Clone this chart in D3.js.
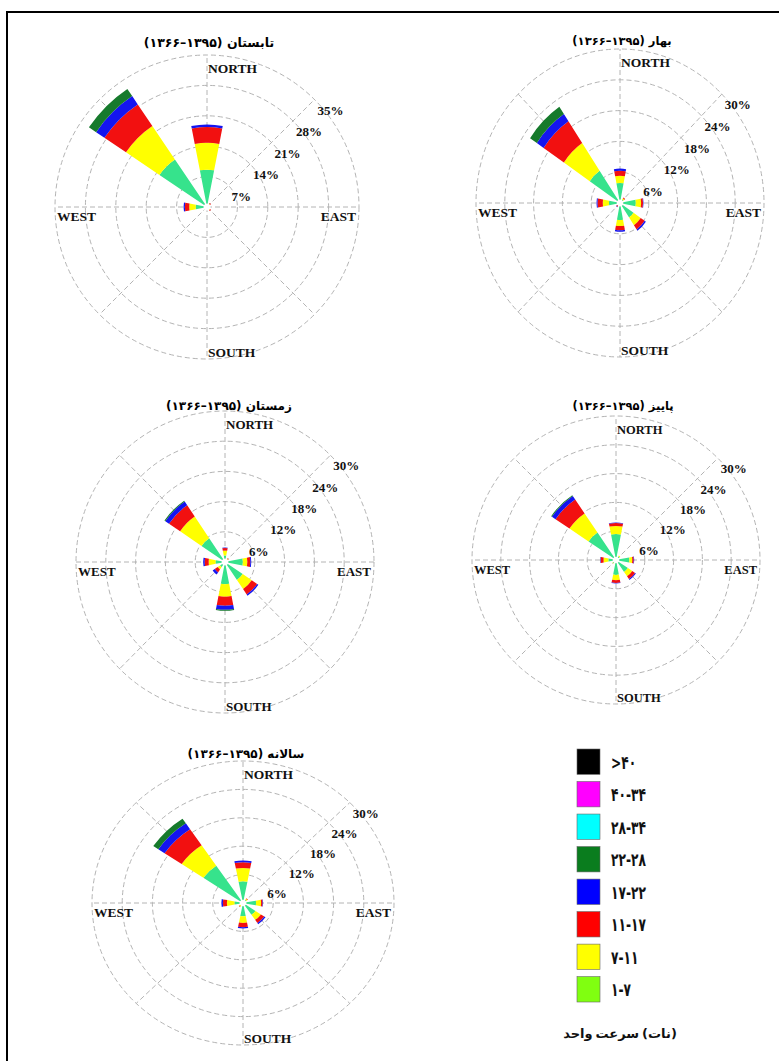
<!DOCTYPE html>
<html>
<head>
<meta charset="utf-8">
<script src="https://cdn.jsdelivr.net/npm/d3@7"></script>
<style>
  body { margin: 0; background: #fff; }
  svg { display: block; }
</style>
</head>
<body>
<svg id="chart" width="779" height="1061"></svg>
<script>
// Wind directions (clockwise from north) and wind-speed classes in knots
const directions = ["N", "NE", "E", "SE", "S", "SW", "W", "NW"];
const directionAngles = [0, 45, 90, 135, 180, 225, 270, 315];
const speedClasses = ["1-7", "7-11", "11-17", "17-22", "22-28", "28-34", "34-40", ">40"];
const legendLabels = ["۱-۷", "۷-۱۱", "۱۱-۱۷", "۱۷-۲۲", "۲۲-۲۸", "۲۸-۳۴", "۴۰-۳۴", ">۴۰"];
const legendTitleWords = ["واحد", "سرعت", "(نات)"];

// Frequency (%) of each speed class, one row per direction (N, NE, E, SE, S, SW, W, NW)
const summerRose = [
  [8.6, 6.2, 3.6, 0.6, 0, 0, 0, 0],
  [0.6, 0.3, 0.2, 0, 0, 0, 0, 0],
  [0.5, 0.2, 0.1, 0, 0, 0, 0, 0],
  [0.6, 0.3, 0.2, 0, 0, 0, 0, 0],
  [0.5, 0.2, 0.1, 0, 0, 0, 0, 0],
  [0.4, 0.2, 0.1, 0, 0, 0, 0, 0],
  [2.6, 1.5, 1.0, 0.3, 0, 0, 0, 0],
  [13.2, 9.3, 6.0, 2.3, 2.0, 0, 0, 0]
];
const springRose = [
  [3.9, 1.4, 1.0, 0.4, 0, 0, 0, 0],
  [0.8, 0.3, 0.2, 0, 0, 0, 0, 0],
  [3.3, 1.1, 0.4, 0.1, 0, 0, 0, 0],
  [3.4, 1.8, 1.0, 0.3, 0, 0, 0, 0],
  [3.3, 1.2, 0.8, 0.3, 0, 0, 0, 0],
  [0.4, 0.2, 0.3, 0.1, 0, 0, 0, 0],
  [2.3, 1.3, 1.1, 0.2, 0, 0, 0, 0],
  [7.6, 6.5, 5.1, 1.7, 1.7, 0, 0, 0]
];
const winterRose = [
  [1.3, 1.0, 0.5, 0.1, 0, 0, 0, 0],
  [0.6, 0.2, 0.1, 0, 0, 0, 0, 0],
  [3.6, 0.9, 0.6, 0.2, 0, 0, 0, 0],
  [4.3, 2.2, 1.3, 0.3, 0, 0, 0, 0],
  [4.4, 2.5, 1.8, 0.8, 0.2, 0, 0, 0],
  [1.2, 0.6, 0.7, 0.5, 0, 0, 0, 0],
  [1.9, 1.4, 0.8, 0.3, 0, 0, 0, 0],
  [5.7, 5.2, 2.7, 0.9, 0.2, 0, 0, 0]
];
const autumnRose = [
  [5.4, 1.7, 0.6, 0.1, 0, 0, 0, 0],
  [0.9, 0.2, 0, 0, 0, 0, 0, 0],
  [2.8, 0.6, 0.3, 0.1, 0, 0, 0, 0],
  [3.0, 1.1, 0.7, 0.2, 0, 0, 0, 0],
  [3.1, 1.1, 0.6, 0.1, 0, 0, 0, 0],
  [0.8, 0.1, 0, 0, 0, 0, 0, 0],
  [1.6, 1.0, 0.6, 0.1, 0, 0, 0, 0],
  [6.9, 4.8, 3.5, 0.9, 0.2, 0, 0, 0]
];
const annualRose = [
  [4.6, 2.8, 1.2, 0.4, 0, 0, 0, 0],
  [0.8, 0.3, 0.1, 0, 0, 0, 0, 0],
  [2.6, 1.0, 0.3, 0.1, 0, 0, 0, 0],
  [3.0, 1.3, 0.8, 0.3, 0, 0, 0, 0],
  [2.8, 1.4, 0.9, 0.3, 0, 0, 0, 0],
  [0.7, 0.2, 0.1, 0, 0, 0, 0, 0],
  [1.7, 1.5, 0.8, 0.3, 0, 0, 0, 0],
  [9.5, 5.2, 4.1, 1.5, 1.2, 0, 0, 0]
];

const seasonTitles = [
  "(۱۳۶۶–۱۳۹۵) تابستان",
  "(۱۳۶۶–۱۳۹۵) بهار",
  "(۱۳۶۶–۱۳۹۵) زمستان",
  "(۱۳۶۶–۱۳۹۵) پاییز",
  "(۱۳۶۶–۱۳۹۵) سالانه"
];
const summerTicks = [7, 14, 21, 28, 35];
const seasonTicks = [6, 12, 18, 24, 30];
const compassLabels = ["NORTH", "EAST", "SOUTH", "WEST"];

// Colours
const barColors = ["#36e38c", "#ffff00", "#f21010", "#1414f0", "#167a2c", "#00ffff", "#ff00ff", "#000000"];
const legendColors = ["#80ff10", "#ffff00", "#ff0000", "#0000ff", "#0a7d1e", "#00ffff", "#ff00ff", "#000000"];
const gridColor = "#b4b4b4";

// Layout of the five rose panels
const R = 150;
const panels = [
  { title: seasonTitles[0], rows: summerRose, ticks: summerTicks, cx: 207, cy: 207, rx: 152, ry: 152, tx: 209, ty: 42, titleSize: 12.5, labelSize: 13.5 },
  { title: seasonTitles[1], rows: springRose, ticks: seasonTicks, cx: 620, cy: 203, rx: 144, ry: 154, tx: 622, ty: 40, titleSize: 11.5, labelSize: 13.5 },
  { title: seasonTitles[2], rows: winterRose, ticks: seasonTicks, cx: 225, cy: 562, rx: 149, ry: 151, tx: 229, ty: 405, titleSize: 12, labelSize: 13 },
  { title: seasonTitles[3], rows: autumnRose, ticks: seasonTicks, cx: 616, cy: 560, rx: 144, ry: 144, tx: 623, ty: 405, titleSize: 11.5, labelSize: 12.5 },
  { title: seasonTitles[4], rows: annualRose, ticks: seasonTicks, cx: 243, cy: 903, rx: 151, ry: 142, tx: 246, ty: 753, titleSize: 12, labelSize: 13.5 }
];

const svg = d3.select("#chart");
svg.append("rect").attr("width", 779).attr("height", 1061).attr("fill", "#fff");

// outer frame
svg.append("path")
  .attr("d", "M7,1061 V12 H779")
  .attr("fill", "none").attr("stroke", "#000").attr("stroke-width", 2);

const serif = "'Liberation Serif', 'Times New Roman', serif";
const arabic = "'DejaVu Sans', 'Noto Sans', sans-serif";
const halfWidth = 11 * Math.PI / 180;
const hole = 3.5;

panels.forEach(p => {
  const kx = p.rx / R, ky = p.ry / R;
  const maxPct = p.ticks[p.ticks.length - 1];
  const r = d3.scaleLinear().domain([0, maxPct]).range([0, R]);

  const g = svg.append("g").attr("transform", `translate(${p.cx},${p.cy})`);
  const plot = g.append("g").attr("transform", `scale(${kx},${ky})`);

  // dashed rings
  plot.selectAll("circle.ring").data(p.ticks).join("circle")
    .attr("class", "ring")
    .attr("r", d => r(d))
    .attr("fill", "none")
    .attr("stroke", gridColor)
    .attr("stroke-width", 1)
    .attr("stroke-dasharray", "5,3")
    .attr("vector-effect", "non-scaling-stroke");

  // dashed spokes
  plot.selectAll("line.spoke").data(directionAngles).join("line")
    .attr("class", "spoke")
    .attr("x1", 0).attr("y1", 0)
    .attr("x2", d => r(maxPct) * Math.sin(d * Math.PI / 180))
    .attr("y2", d => -r(maxPct) * Math.cos(d * Math.PI / 180))
    .attr("stroke", gridColor)
    .attr("stroke-width", 1)
    .attr("stroke-dasharray", "5,3")
    .attr("vector-effect", "non-scaling-stroke");

  plot.append("circle").attr("r", hole).attr("fill", "#fff");

  // stacked wind-speed bars
  const table = p.rows.map((vals, i) => {
    const o = { dir: directions[i], angle: directionAngles[i] * Math.PI / 180 };
    speedClasses.forEach((c, j) => { o[c] = vals[j]; });
    return o;
  });
  const series = d3.stack().keys(speedClasses)(table);
  const arc = d3.arc()
    .innerRadius(d => Math.max(hole, r(d[0])))
    .outerRadius(d => Math.max(hole, r(d[1])))
    .startAngle(d => d.data.angle - halfWidth)
    .endAngle(d => d.data.angle + halfWidth);

  series.forEach((s, j) => {
    plot.append("g").attr("fill", barColors[j])
      .selectAll("path")
      .data(s.filter(d => d[1] - d[0] > 0 && r(d[1]) > hole))
      .join("path")
      .attr("d", arc);
  });

  // percentage labels along the north-east diagonal
  g.selectAll("text.pct").data(p.ticks).join("text")
    .attr("class", "pct")
    .attr("x", d => r(d) * kx * Math.SQRT1_2 + 3)
    .attr("y", d => -r(d) * ky * Math.SQRT1_2 + 15)
    .attr("font-family", serif)
    .attr("font-weight", "bold")
    .attr("font-size", 13)
    .attr("fill", "#111")
    .text(d => d + "%");

  // compass labels
  const compass = [
    { t: compassLabels[0], x: 1, y: -p.ry + 18, a: "start" },
    { t: compassLabels[1], x: p.rx - 3, y: 14, a: "end" },
    { t: compassLabels[2], x: 1, y: p.ry - 2, a: "start" },
    { t: compassLabels[3], x: -p.rx + 2, y: 14, a: "start" }
  ];
  g.selectAll("text.dir").data(compass).join("text")
    .attr("class", "dir")
    .attr("x", d => d.x).attr("y", d => d.y)
    .attr("text-anchor", d => d.a)
    .attr("font-family", serif)
    .attr("font-weight", "bold")
    .attr("font-size", p.labelSize)
    .attr("fill", "#111")
    .text(d => d.t);

  // panel title
  svg.append("text")
    .attr("x", p.tx).attr("y", p.ty + 5)
    .attr("text-anchor", "middle")
    .attr("font-family", arabic)
    .attr("font-weight", "bold")
    .attr("font-size", p.titleSize)
    .attr("fill", "#000")
    .text(p.title);
});

// legend (highest class on top)
const legendOrder = d3.range(speedClasses.length).reverse();
const ly = d3.scaleBand().domain(legendOrder).range([749, 1002]).paddingInner(0.22);
const legend = svg.append("g");
legend.selectAll("rect").data(legendOrder).join("rect")
  .attr("x", 577).attr("y", d => ly(d))
  .attr("width", 23).attr("height", ly.bandwidth())
  .attr("fill", d => legendColors[d])
  .attr("stroke", "#666").attr("stroke-width", 0.6);
legend.selectAll("text").data(legendOrder).join("text")
  .attr("transform", d => `translate(611,${ly(d) + ly.bandwidth() / 2 + 7}) scale(0.72,1.08)`)
  .attr("font-family", arabic)
  .attr("font-weight", "bold")
  .attr("font-size", 17)
  .attr("fill", "#111")
  .text(d => legendLabels[d]);

// legend caption, words laid out left to right
const caption = svg.append("g");
const words = caption.selectAll("text").data(legendTitleWords).join("text")
  .attr("y", 1038)
  .attr("font-family", arabic)
  .attr("font-weight", "bold")
  .attr("font-size", 13)
  .attr("fill", "#111")
  .text(d => d);
const widths = words.nodes().map(n => n.getComputedTextLength());
const gap = 3;
const total = d3.sum(widths) + gap * (widths.length - 1);
let cursor = 620 - total / 2;
words.attr("x", (d, i) => {
  const x = cursor;
  cursor += widths[i] + gap;
  return x;
});
</script>
</body>
</html>
